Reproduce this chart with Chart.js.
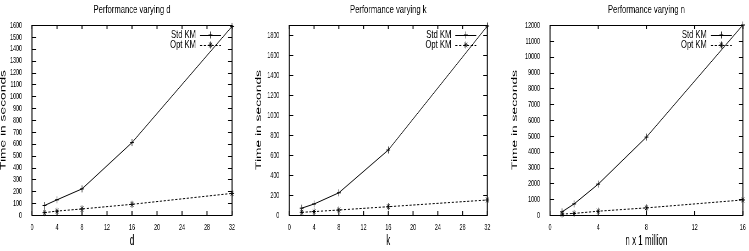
<!DOCTYPE html>
<html><head><meta charset="utf-8">
<script src="https://cdn.jsdelivr.net/npm/chart.js@4/dist/chart.umd.min.js"></script>
<style>
html,body{margin:0;padding:0;background:#fff;width:749px;height:251px;overflow:hidden}
.panel{position:absolute;top:0;height:251px;overflow:hidden}
.inner{position:absolute;left:0;top:0;transform-origin:0 0}
canvas{display:block}
</style>
</head><body>
<div class="panel" style="left:0;width:250px"><div class="inner"><canvas id="c1"></canvas></div></div>
<div class="panel" style="left:250px;width:250px"><div class="inner"><canvas id="c2"></canvas></div></div>
<div class="panel" style="left:500px;width:249px"><div class="inner"><canvas id="c3"></canvas></div></div>
<script>
// ---- data ----
const seriesNames = ['Std KM', 'Opt KM'];
const dValues = [2, 4, 8, 16, 32];
const stdByD = [80, 128, 220, 610, 1588];
const optByD = [20, 33, 51, 90, 182];
const kValues = [2, 4, 8, 16, 32];
const stdByK = [68, 110, 222, 650, 1890];
const optByK = [27, 34, 50, 83, 150];
const nValues = [1, 2, 4, 8, 16];
const stdByN = [200, 700, 1950, 4920, 12000];
const optByN = [60, 100, 240, 450, 950];
const titles = ['Performance varying d', 'Performance varying k', 'Performance varying n'];
const xTitles = ['d', 'k', 'n x 1 million'];
const yTitle = 'Time in seconds';

const SX = 0.55;
const FONT = '"Liberation Sans", Arial, Helvetica, sans-serif';

const mctx = document.createElement('canvas').getContext('2d');
function fit(text, screenW, scaled) {
  mctx.font = 'normal 100px ' + FONT;
  const w = mctx.measureText(text).width;
  return 100 * (scaled ? screenW / SX : screenW) / w;
}
const xTitleSize = fit('n x 1 million', 42, true);
const tickSize = fit('1600', 12, true);
const yTitleSize = fit(yTitle, 100, false);
const TITLE_PX = 11, LEGEND_PX = 10.5;

// text drawn condensed so that its width on screen matches the picture
function condensedText(ctx, text, x, y, align, px, screenW) {
  ctx.font = 'normal ' + px + 'px ' + FONT;
  const w = ctx.measureText(text).width;
  const k = (screenW / SX) / w;
  ctx.save();
  ctx.translate(x, y);
  ctx.scale(k, 1);
  ctx.textAlign = align;
  ctx.textBaseline = 'middle';
  ctx.fillText(text, 0, 0);
  ctx.restore();
}

const boxTicks = {
  id: 'boxTicks',
  afterDraw(chart, args, opts) {
    const {ctx, chartArea: a, scales} = chart;
    ctx.save();
    ctx.strokeStyle = '#000';
    ctx.fillStyle = '#000';
    ctx.lineWidth = 1;
    ctx.beginPath();
    ctx.moveTo(a.left, a.top + 0.5); ctx.lineTo(a.right, a.top + 0.5);
    ctx.moveTo(a.left, a.bottom + 0.5); ctx.lineTo(a.right, a.bottom + 0.5);
    ctx.stroke();
    ctx.lineWidth = 1 / SX;
    ctx.beginPath();
    ctx.moveTo(a.left, a.top); ctx.lineTo(a.left, a.bottom + 1);
    ctx.moveTo(a.right, a.top); ctx.lineTo(a.right, a.bottom + 1);
    ctx.stroke();
    ctx.beginPath();
    scales.x.ticks.forEach(t => {
      const x = scales.x.getPixelForValue(t.value);
      ctx.moveTo(x, a.bottom); ctx.lineTo(x, a.bottom - 4);
      ctx.moveTo(x, a.top); ctx.lineTo(x, a.top + 4);
    });
    ctx.stroke();
    ctx.lineWidth = 1;
    ctx.beginPath();
    const tl = 4 / SX;
    scales.y.ticks.forEach(t => {
      const y = Math.round(scales.y.getPixelForValue(t.value)) + 0.5;
      ctx.moveTo(a.left, y); ctx.lineTo(a.left + tl, y);
      ctx.moveTo(a.right, y); ctx.lineTo(a.right - tl, y);
    });
    ctx.stroke();
    // chart title
    const titleText = opts.text;
    ctx.font = 'normal ' + TITLE_PX + 'px ' + FONT;
    const ratio = ctx.measureText(titleText).width / ctx.measureText(titles[0]).width;
    condensedText(ctx, titleText, (a.left + a.right) / 2, 10, 'center', TITLE_PX, 77 * ratio);
    // legend (top right, inside the plot)
    chart.data.datasets.forEach((ds, i) => {
      const y = 35 + i * 10;
      ctx.font = 'normal ' + LEGEND_PX + 'px ' + FONT;
      const r = ctx.measureText(ds.label).width / ctx.measureText(seriesNames[0]).width;
      condensedText(ctx, ds.label, a.right - 36 / SX, y, 'right', LEGEND_PX, 25 * r);
      ctx.lineWidth = 1;
      ctx.setLineDash(ds.borderDash || []);
      ctx.beginPath();
      ctx.moveTo(a.right - 32 / SX, y + 0.5); ctx.lineTo(a.right - 11 / SX, y + 0.5);
      ctx.stroke();
      ctx.setLineDash([]);
      Chart.helpers.drawPoint(ctx, {pointStyle: ds.pointStyle, radius: ds.pointRadius, rotation: 0, borderWidth: 1}, a.right - 21.5 / SX, y);
    });
    ctx.restore();
  }
};

function makeChart(id, panelW, xs, std, opt, xMax, xStep, yMax, yStep, title, xTitle, plotL, plotR, yTitleCenter) {
  const W = Math.round(panelW / SX);
  const cv = document.getElementById(id);
  cv.width = W; cv.height = 251;
  cv.parentNode.style.transform = 'scaleX(' + SX + ')';
  const toPts = (arr) => xs.map((x, i) => ({x: x, y: arr[i]}));
  const stepsY = [];
  for (let v = 0; v <= yMax + 1e-9; v += yStep) stepsY.push(v);
  new Chart(cv, {
    type: 'scatter',
    data: {
      datasets: [
        {label: seriesNames[0], data: toPts(std), showLine: true, borderColor: '#000', backgroundColor: '#000',
         borderWidth: 1, pointStyle: 'cross', pointRadius: 3.5, pointBorderWidth: 1, clip: false},
        {label: seriesNames[1], data: toPts(opt), showLine: true, borderColor: '#000', backgroundColor: '#000',
         borderWidth: 1, borderDash: [4, 3], pointStyle: 'star', pointRadius: 3.5, pointBorderWidth: 1, clip: false}
      ]
    },
    options: {
      responsive: false,
      animation: false,
      devicePixelRatio: 1,
      layout: {padding: {left: 0, right: W - plotR / SX, top: 25, bottom: 0}},
      plugins: {
        legend: {display: false},
        tooltip: {enabled: false},
        title: {display: false},
        boxTicks: {text: title}
      },
      scales: {
        x: {
          type: 'linear', min: 0, max: xMax,
          ticks: {stepSize: xStep, color: '#000', font: {family: FONT, size: tickSize}, padding: 6,
                  maxRotation: 0, autoSkip: false, callback: v => String(v)},
          grid: {display: false, drawTicks: false},
          border: {display: false},
          title: {display: true, text: xTitle, color: '#000', font: {family: FONT, size: xTitleSize, lineHeight: 1},
                  padding: {top: 0, bottom: 10 - xTitleSize / 2}},
          afterFit(s) { s.height = 36; }
        },
        y: {
          type: 'linear', min: 0, max: yMax,
          ticks: {stepSize: yStep, color: '#000', font: {family: FONT, size: tickSize}, padding: 10 / SX,
                  autoSkip: false, callback: v => String(v)},
          afterBuildTicks(s) { s.ticks = stepsY.map(v => ({value: v})); },
          grid: {display: false, drawTicks: false},
          border: {display: false},
          title: {display: true, text: yTitle, color: '#000', font: {family: FONT, size: yTitleSize, lineHeight: 1},
                  padding: {top: yTitleCenter / SX - yTitleSize / 2, bottom: 0}},
          afterFit(s) { s.width = plotL / SX; }
        }
      }
    },
    plugins: [boxTicks]
  });
}

makeChart('c1', 250, dValues, stdByD, optByD, 32, 4, 1600, 100, titles[0], xTitles[0], 32, 232, 3.5);
makeChart('c2', 250, kValues, stdByK, optByK, 32, 4, 1900, 200, titles[1], xTitles[1], 39.3, 237.3, 9);
makeChart('c3', 249, nValues, stdByN, optByN, 16, 4, 12000, 1000, titles[2], xTitles[2], 50, 244.3, 15);
</script>
</body></html>
